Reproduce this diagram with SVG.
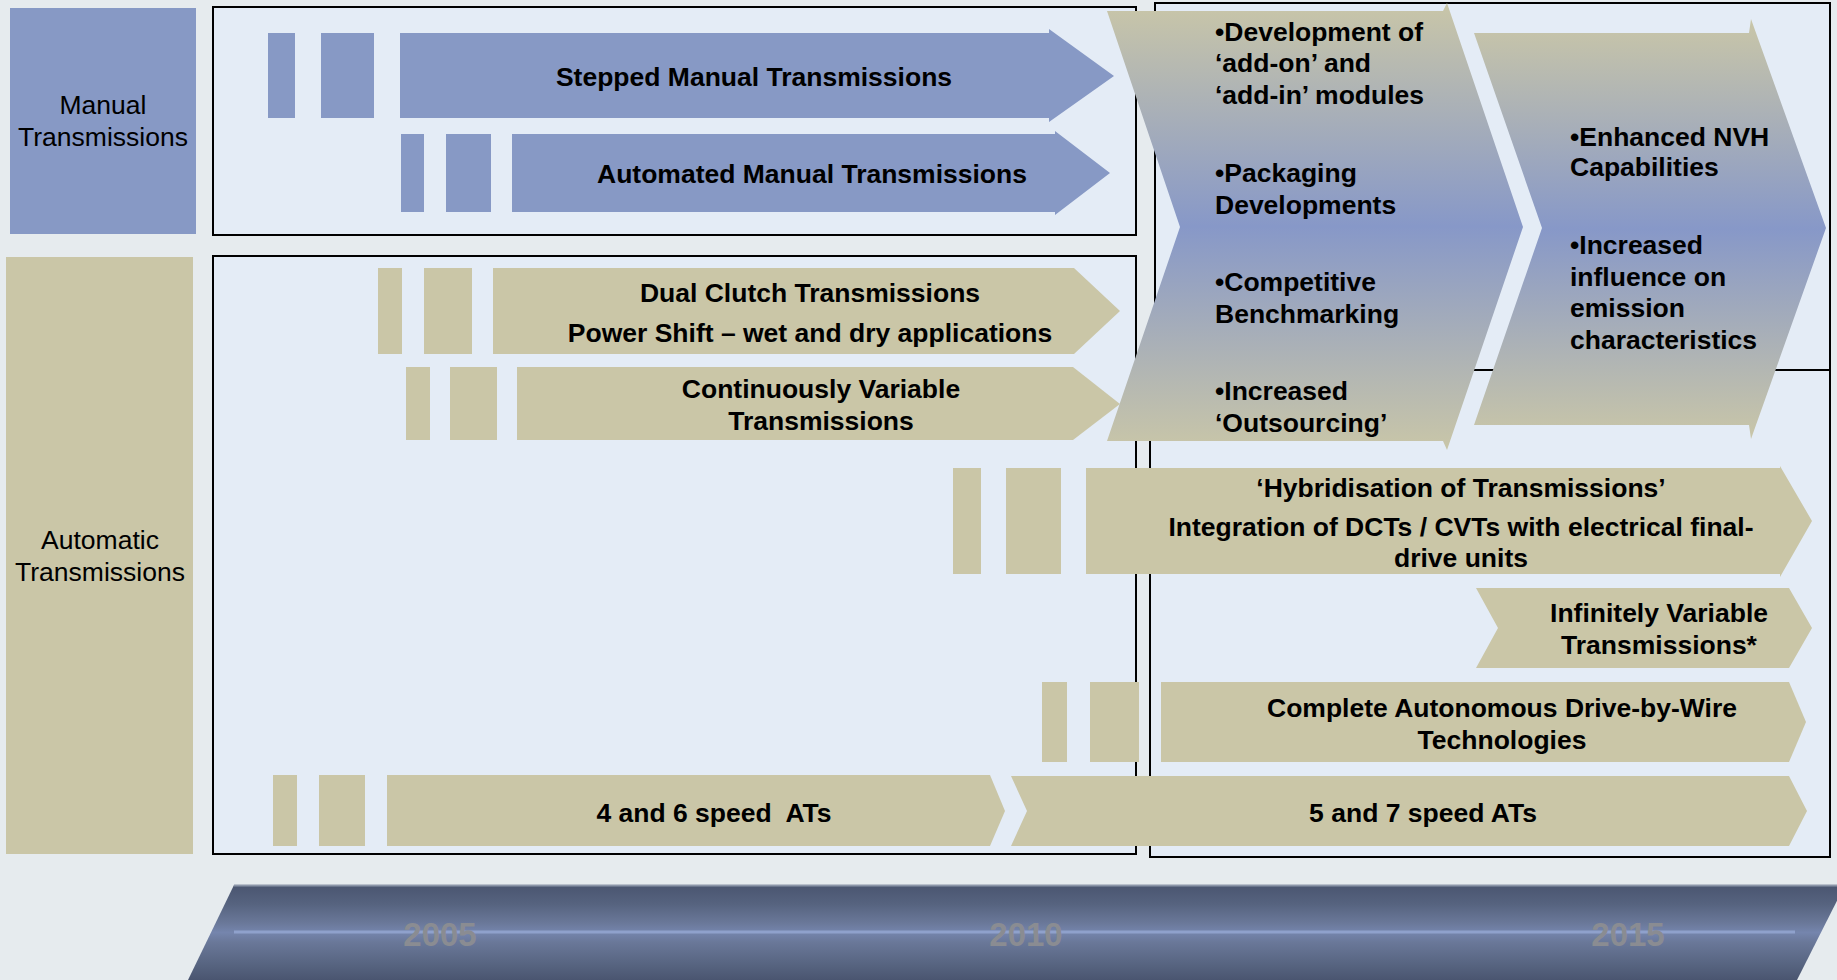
<svg xmlns="http://www.w3.org/2000/svg" width="1837" height="980" viewBox="0 0 1837 980">
<defs>
<style>
.frame{fill:#e4ecf6;stroke:#000;stroke-width:2}
.blue{fill:#8799c5}
.tan{fill:#cac6a7}
.t{font-family:"Liberation Sans",Arial,sans-serif;font-size:26.5px;font-weight:bold;fill:#000;text-anchor:middle}
.tl{font-family:"Liberation Sans",Arial,sans-serif;font-size:26.5px;font-weight:bold;fill:#000}
.lab{font-family:"Liberation Sans",Arial,sans-serif;font-size:26.5px;fill:#000;text-anchor:middle}
.yr{font-family:"Liberation Sans",Arial,sans-serif;font-size:33px;font-weight:bold;fill:#8a8c92;text-anchor:middle}
</style>
<linearGradient id="chev" x1="0" y1="0" x2="0" y2="1">
<stop offset="0" stop-color="#c9c6a8"/>
<stop offset="0.5" stop-color="#8798c8"/>
<stop offset="1" stop-color="#c9c6a8"/>
</linearGradient>
<linearGradient id="band" x1="0" y1="0" x2="0" y2="1">
<stop offset="0" stop-color="#4a5570"/>
<stop offset="0.2" stop-color="#56637f"/>
<stop offset="0.4" stop-color="#6a7899"/>
<stop offset="0.5" stop-color="#7585ad"/>
<stop offset="0.6" stop-color="#6a7899"/>
<stop offset="0.85" stop-color="#56637f"/>
<stop offset="1" stop-color="#4a5570"/>
</linearGradient>
</defs>
<rect x="0" y="0" width="1837" height="980" fill="#e6ebee"/>

<g id="frames">
<rect class="frame" x="213" y="7" width="923" height="228"/>
<rect class="frame" x="213" y="256" width="923" height="598"/>
<rect class="frame" x="1155" y="3" width="675" height="367"/>
<rect class="frame" x="1150" y="370" width="680" height="487"/>
</g>

<g id="label-manual">
<rect class="blue" x="10" y="8" width="186" height="226"/>
<text class="lab" x="103" y="114">Manual</text>
<text class="lab" x="103" y="146">Transmissions</text>
</g>
<g id="label-automatic">
<rect class="tan" x="6" y="257" width="187" height="597"/>
<text class="lab" x="100" y="549">Automatic</text>
<text class="lab" x="100" y="581">Transmissions</text>
</g>

<g id="stepped-manual">
<rect class="blue" x="268" y="33" width="27" height="85"/>
<rect class="blue" x="321" y="33" width="53" height="85"/>
<polygon class="blue" points="400,33 1049,33 1049,29 1114,76 1049,122 1049,118 400,118"/>
<text class="t" x="754" y="86">Stepped Manual Transmissions</text>
</g>
<g id="automated-manual">
<rect class="blue" x="401" y="134" width="23" height="78"/>
<rect class="blue" x="446" y="134" width="45" height="78"/>
<polygon class="blue" points="512,134 1055,134 1055,131 1110,173 1055,215 1055,212 512,212"/>
<text class="t" x="812" y="183">Automated Manual Transmissions</text>
</g>
<g id="dual-clutch">
<rect class="tan" x="378" y="268" width="24" height="86"/>
<rect class="tan" x="424" y="268" width="48" height="86"/>
<polygon class="tan" points="493,268 1074,268 1120,311 1074,354 493,354"/>
<text class="t" x="810" y="302">Dual Clutch Transmissions</text>
<text class="t" x="810" y="342">Power Shift – wet and dry applications</text>
</g>
<g id="cvt">
<rect class="tan" x="406" y="367" width="24" height="73"/>
<rect class="tan" x="450" y="367" width="47" height="73"/>
<polygon class="tan" points="517,367 1073,367 1120,404 1073,440 517,440"/>
<text class="t" x="821" y="398">Continuously Variable</text>
<text class="t" x="821" y="430">Transmissions</text>
</g>

<g id="chevron-1">
<polygon fill="url(#chev)" points="1107,11 1443,11 1447,3 1523,227 1447,450 1443,441 1107,441 1180,227"/>
<text class="tl" x="1215" y="41">•Development of</text>
<text class="tl" x="1215" y="72">‘add-on’ and</text>
<text class="tl" x="1215" y="104">‘add-in’ modules</text>
<text class="tl" x="1215" y="182">•Packaging</text>
<text class="tl" x="1215" y="214">Developments</text>
<text class="tl" x="1215" y="291">•Competitive</text>
<text class="tl" x="1215" y="323">Benchmarking</text>
<text class="tl" x="1215" y="400">•Increased</text>
<text class="tl" x="1215" y="432">‘Outsourcing’</text>
</g>
<g id="chevron-2">
<polygon fill="url(#chev)" points="1474,33 1749,33 1751,19 1826,228 1751,439 1749,425 1474,425 1542,228"/>
<text class="tl" x="1570" y="146">•Enhanced NVH</text>
<text class="tl" x="1570" y="176">Capabilities</text>
<text class="tl" x="1570" y="254">•Increased</text>
<text class="tl" x="1570" y="286">influence on</text>
<text class="tl" x="1570" y="317">emission</text>
<text class="tl" x="1570" y="349">characteristics</text>
</g>

<g id="hybridisation">
<rect class="tan" x="953" y="468" width="28" height="106"/>
<rect class="tan" x="1006" y="468" width="55" height="106"/>
<polygon class="tan" points="1086,468 1780,468 1780,466 1812,521 1780,577 1780,574 1086,574"/>
<text class="t" x="1461" y="497">‘Hybridisation of Transmissions’</text>
<text class="t" x="1461" y="536">Integration of DCTs / CVTs with electrical final-</text>
<text class="t" x="1461" y="567">drive units</text>
</g>
<g id="ivt">
<polygon class="tan" points="1476,588 1789,588 1812,628 1789,668 1476,668 1498,628"/>
<text class="t" x="1659" y="622">Infinitely Variable</text>
<text class="t" x="1659" y="654">Transmissions*</text>
</g>
<g id="drive-by-wire">
<rect class="tan" x="1042" y="682" width="25" height="80"/>
<rect class="tan" x="1090" y="682" width="49" height="80"/>
<polygon class="tan" points="1161,682 1789,682 1806,722 1789,762 1161,762"/>
<text class="t" x="1502" y="717">Complete Autonomous Drive-by-Wire</text>
<text class="t" x="1502" y="749">Technologies</text>
</g>
<g id="ats-4-6">
<rect class="tan" x="273" y="775" width="24" height="71"/>
<rect class="tan" x="319" y="775" width="46" height="71"/>
<polygon class="tan" points="387,775 990,775 1005,811 990,846 387,846"/>
<text class="t" x="714" y="822" xml:space="preserve">4 and 6 speed  ATs</text>
</g>
<g id="ats-5-7">
<polygon class="tan" points="1011,776 1789,776 1807,811 1789,846 1011,846 1027,811"/>
<text class="t" x="1423" y="822">5 and 7 speed ATs</text>
</g>

<g id="timeline">
<polygon fill="url(#band)" points="234,885 1845,885 1797,980 188,980"/>
<line x1="234" y1="885.5" x2="1840" y2="885.5" stroke="#8b95a8" stroke-width="2"/>
<line x1="234" y1="932" x2="1795" y2="932" stroke="#8fa1cc" stroke-width="3"/>
<text class="yr" x="440" y="946">2005</text>
<text class="yr" x="1026" y="946">2010</text>
<text class="yr" x="1628" y="946">2015</text>
</g>
</svg>
